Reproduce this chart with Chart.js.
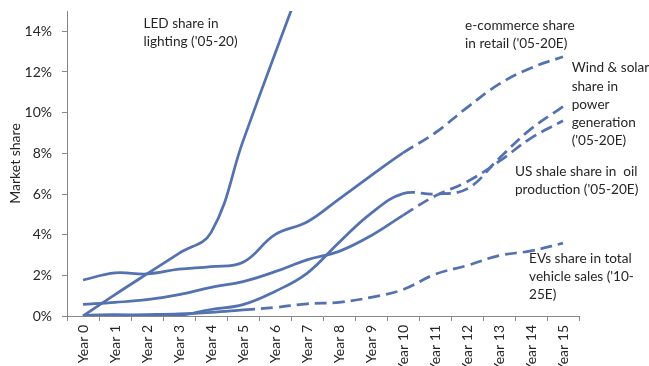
<!DOCTYPE html>
<html>
<head>
<meta charset="utf-8">
<script src="https://cdn.jsdelivr.net/npm/chart.js@4"></script>
<style>
  html, body { margin: 0; padding: 0; background: #fff; }
  #wrap { width: 649px; height: 366px; }
</style>
</head>
<body>
<div id="wrap"><canvas id="share-chart" width="649" height="366"></canvas></div>
<script>
const years = ['Year 0', 'Year 1', 'Year 2', 'Year 3', 'Year 4', 'Year 5', 'Year 6', 'Year 7',
  'Year 8', 'Year 9', 'Year 10', 'Year 11', 'Year 12', 'Year 13', 'Year 14', 'Year 15'];

// market share in %
const ledShare = [0, 1.05, 2.07, 3.08, 4.1, 8.6, 12.9, 17.1];
const ecommerceShare = [1.77, 2.12, 2.07, 2.3, 2.43, 2.64, 4.0, 4.62, 5.75, 6.9, 8.02, 9.0, 10.25, 11.4, 12.2, 12.75];
const windSolarShare = [0.57, 0.67, 0.8, 1.05, 1.41, 1.69, 2.18, 2.76, 3.18, 3.95, 4.95, 5.9, 6.6, 7.6, 8.75, 9.6];
const shaleShare = [0.03, 0.05, 0.0, 0.03, 0.32, 0.56, 1.21, 2.1, 3.62, 5.05, 6.02, 6.0, 6.25, 7.75, 9.2, 10.3];
const evShare = [0.03, 0.05, 0.07, 0.1, 0.18, 0.3, 0.42, 0.6, 0.67, 0.92, 1.3, 2.05, 2.48, 2.97, 3.2, 3.58];

// first index where each series turns into an estimate (dashed)
const dashFrom = { led: 99, ecommerce: 10, windSolar: 10, shale: 10, ev: 5 };

// text notes: [category index, value %, lines]
const notes = [
  [1.89, 14.4, ['LED share in', "lighting ('05-20)"]],
  [11.94, 14.3, ['e-commerce share', "in retail ('05-20E)"]],
  [15.27, 12.2, ['Wind & solar', 'share in', 'power', 'generation', "('05-20E)"]],
  [13.5, 7.1, ['US shale share in  oil', "production ('05-20E)"]],
  [13.94, 2.82, ['EVs share in total', "vehicle sales ('10-", '25E)']],
];

const lineColor = '#5471b0';
const axisColor = '#868686';
const textColor = '#262626';
const fontFamily = 'Lato, "Open Sans", sans-serif';

function series(data, from) {
  return {
    data: data,
    borderColor: lineColor,
    borderWidth: 2.75,
    pointRadius: 0,
    tension: 0.4,
    fill: false,
    segment: {
      borderDash: (ctx) => (ctx.p0DataIndex >= from ? [12, 6] : undefined),
    },
  };
}

const notesPlugin = {
  id: 'notes',
  afterDatasetsDraw(chart) {
    const { ctx, scales } = chart;
    ctx.save();
    ctx.font = '13.6px ' + fontFamily;
    ctx.fillStyle = textColor;
    ctx.textAlign = 'left';
    ctx.textBaseline = 'middle';
    notes.forEach(([xi, yv, lines]) => {
      const x = scales.x.getPixelForValue(xi);
      const y = scales.y.getPixelForValue(yv);
      lines.forEach((t, i) => ctx.fillText(t, x, y + i * 18.2));
    });
    ctx.restore();
  },
};

const ctx = document.getElementById('share-chart').getContext('2d');
new Chart(ctx, {
  type: 'line',
  data: {
    labels: years,
    datasets: [
      series(ledShare, dashFrom.led),
      series(ecommerceShare, dashFrom.ecommerce),
      series(windSolarShare, dashFrom.windSolar),
      series(shaleShare, dashFrom.shale),
      series(evShare, dashFrom.ev),
    ],
  },
  options: {
    responsive: false,
    animation: false,
    layout: { padding: { top: 11, right: 70, bottom: 0, left: 0 } },
    plugins: {
      legend: { display: false },
      tooltip: { enabled: false },
    },
    scales: {
      x: {
        offset: true,
        grid: { offset: true, drawOnChartArea: false, tickLength: 5, color: axisColor },
        border: { color: axisColor, width: 1 },
        ticks: {
          color: textColor,
          font: { family: fontFamily, size: 14 },
          minRotation: 90,
          maxRotation: 90,
          padding: 4,
          autoSkip: false,
        },
        afterFit(scale) { scale.height = 50; },
      },
      y: {
        min: 0,
        max: 15,
        grid: { drawOnChartArea: false, tickLength: 5, color: axisColor },
        border: { color: axisColor, width: 1 },
        ticks: {
          stepSize: 2,
          color: textColor,
          font: { family: fontFamily, size: 14 },
          padding: 10,
          callback: (v) => v + '%',
        },
        afterBuildTicks(scale) {
          scale.ticks = scale.ticks.filter((t) => t.value <= 14);
        },
        title: {
          display: true,
          text: 'Market share',
          color: textColor,
          font: { family: fontFamily, size: 14 },
          padding: { top: 7, bottom: 0 },
        },
        afterFit(scale) {
          scale.width = 67;
          scale.paddingTop = 0;
          scale.paddingBottom = 0;
        },
      },
    },
  },
  plugins: [notesPlugin],
});
</script>
</body>
</html>
